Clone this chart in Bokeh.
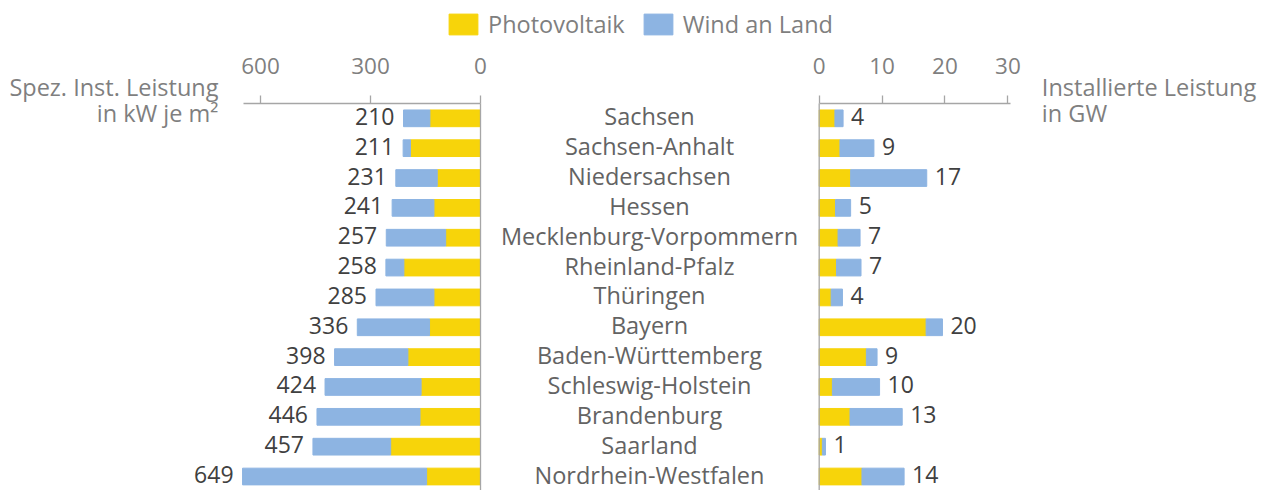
from bokeh.plotting import figure
from bokeh.models import (ColumnDataSource, Range1d, LinearAxis, FixedTicker,
                          LabelSet, Label, Legend, LegendItem)
from bokeh.core.properties import value
from bokeh.embed import file_html
from bokeh.resources import INLINE

# ---------------- data ----------------
states = ["Sachsen", "Sachsen-Anhalt", "Niedersachsen", "Hessen",
          "Mecklenburg-Vorpommern", "Rheinland-Pfalz", "Thüringen", "Bayern",
          "Baden-Württemberg", "Schleswig-Holstein", "Brandenburg", "Saarland",
          "Nordrhein-Westfalen"]
# specific installed capacity, kW per m² (left chart)
spec_pv = [138, 191, 118, 127, 95, 209, 127, 139, 198, 162, 165, 245, 147]
spec_wind = [72, 20, 113, 114, 162, 49, 158, 197, 200, 262, 281, 212, 502]
spec_total = [210, 211, 231, 241, 257, 258, 285, 336, 398, 424, 446, 457, 649]
# installed capacity, GW (right chart)
gw_pv = [2.5, 3.3, 5.0, 2.6, 3.0, 2.75, 1.9, 17.0, 7.5, 2.1, 4.9, 0.5, 6.8]
gw_wind = [1.3, 5.4, 12.1, 2.4, 3.5, 3.9, 1.8, 2.6, 1.7, 7.5, 8.3, 0.5, 6.7]
gw_total = [4, 9, 17, 5, 7, 7, 4, 20, 9, 10, 13, 1, 14]
left_ticks = [0, 300, 600]
right_ticks = [0, 10, 20, 30]
series = ["Photovoltaik", "Wind an Land"]
left_title = ["Spez. Inst. Leistung", "in kW je m²"]
right_title = ["Installierte Leistung", "in GW"]

# ---------------- style ----------------
FONT = "Open Sans"
PV_COLOR = "#F7D40A"
WIND_COLOR = "#8DB4E2"
AXIS_COLOR = "#A6A6A6"
GREY_TEXT = "#7F7F7F"
CAT_TEXT = "#636363"
VAL_TEXT = "#404040"
FS_TEXT = "23.5px"
FS_NUM = "23px"
FS_TICK = "22.5px"
BAR_H = 0.56
TEXT_SHIFT = 0.067          # labels sit slightly above bar centres
W, H = 1262, 490

idx = list(range(len(states)))
src = ColumnDataSource(dict(
    y=idx, ty=[i - TEXT_SHIFT for i in idx], state=states,
    spv=spec_pv, swind_end=[a + b for a, b in zip(spec_pv, spec_wind)],
    stot=spec_total, stot_txt=[str(v) for v in spec_total],
    gpv=gw_pv, gwind_end=[a + b for a, b in zip(gw_pv, gw_wind)],
    gtot_txt=[str(v) for v in gw_total],
))

p = figure(width=W, height=H,
           x_range=Range1d(-130.16, 70.48),          # right chart: GW
           y_range=Range1d(start=12.468, end=-3.947),
           x_axis_location=None, y_axis_location=None,
           toolbar_location=None, output_backend="svg",
           min_border_left=0, min_border_right=0, min_border_top=0,
           min_border_bottom=0)
p.extra_x_ranges = {"left": Range1d(1309.1, -2132.7)}  # left chart: kW/m²
p.outline_line_color = None
p.grid.visible = False


def style_axis(ax):
    ax.axis_line_color = AXIS_COLOR
    ax.axis_line_width = 1.3
    ax.major_tick_line_color = AXIS_COLOR
    ax.major_tick_line_width = 1.3
    ax.major_tick_out = 8
    ax.major_tick_in = 0
    ax.minor_tick_line_color = None
    ax.major_label_text_font = FONT
    ax.major_label_text_font_size = FS_TICK
    ax.major_label_text_color = GREY_TEXT
    ax.major_label_standoff = 21


def title_label(x, y, text, align, rng):
    return Label(x=x, y=y, text=text, text_align=align, text_baseline="middle",
                 x_range_name=rng,
                 text_font=FONT, text_font_size=FS_TEXT, text_color=GREY_TEXT)


# ---------------- left chart ----------------
r_pv = p.hbar(y="y", left=0, right="spv", height=BAR_H, color=PV_COLOR,
              source=src, x_range_name="left")
r_wind = p.hbar(y="y", left="spv", right="swind_end", height=BAR_H,
                color=WIND_COLOR, source=src, x_range_name="left")
p.segment(x0=0, x1=0, y0=-0.5, y1=12.5, line_color=AXIS_COLOR, line_width=1.3,
          x_range_name="left")
lax = LinearAxis(x_range_name="left", ticker=FixedTicker(ticks=left_ticks),
                 bounds=(0, 646), fixed_location=-0.5)
style_axis(lax)
p.add_layout(lax, "above")
p.add_layout(LabelSet(x="stot", y="ty", text="stot_txt", source=src,
                      x_range_name="left",
                      x_offset=-9, text_align="right", text_baseline="middle",
                      text_font=value(FONT), text_font_size=FS_NUM,
                      text_color=VAL_TEXT))
p.add_layout(title_label(714.5, -1.037, left_title[0], "right", "left"))
p.add_layout(title_label(714.5, -0.167, left_title[1], "right", "left"))

# ---------------- middle (category names) ----------------
p.text(x=-26.98, y="ty", text="state", source=src, text_align="center",
       text_baseline="middle", text_font=value(FONT), text_font_size=FS_TEXT,
       text_color=CAT_TEXT)

# ---------------- right chart ----------------
p.hbar(y="y", left=0, right="gpv", height=BAR_H, color=PV_COLOR, source=src)
p.hbar(y="y", left="gpv", right="gwind_end", height=BAR_H, color=WIND_COLOR,
       source=src)
p.segment(x0=0, x1=0, y0=-0.5, y1=12.5, line_color=AXIS_COLOR, line_width=1.3)
rax = LinearAxis(ticker=FixedTicker(ticks=right_ticks), bounds=(0, 30.4),
                 fixed_location=-0.5)
style_axis(rax)
p.add_layout(rax, "above")
p.add_layout(LabelSet(x="gwind_end", y="ty", text="gtot_txt", source=src,
                      x_offset=8, text_align="left", text_baseline="middle",
                      text_font=value(FONT), text_font_size=FS_NUM,
                      text_color=VAL_TEXT))
p.add_layout(title_label(35.4, -1.037, right_title[0], "left", "default"))
p.add_layout(title_label(35.4, -0.167, right_title[1], "left", "default"))

# ---------------- legend ----------------
legend = Legend(items=[LegendItem(label=series[0], renderers=[r_pv]),
                       LegendItem(label=series[1], renderers=[r_wind])],
                orientation="horizontal", location=(445, H - 40),
                glyph_width=36, glyph_height=26, label_height=26,
                label_standoff=7, spacing=15, padding=0, margin=0,
                border_line_color=None, background_fill_alpha=0,
                label_text_font=FONT, label_text_font_size=FS_TEXT,
                label_text_color=GREY_TEXT)
p.add_layout(legend)

open("out.html", "w").write(file_html(p, INLINE))
